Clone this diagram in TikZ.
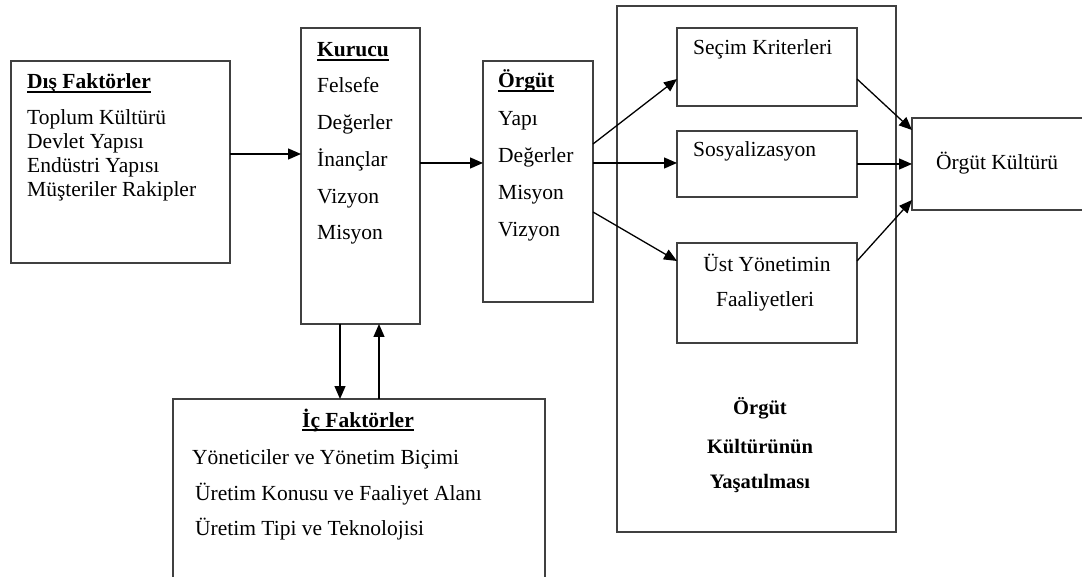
\documentclass[tikz,border=0pt]{standalone}
\usepackage{fontspec}
\setmainfont{Liberation Serif}
\usetikzlibrary{arrows.meta}

% underline at a fixed depth below the baseline
\newcommand{\ulin}[1]{\setbox0\hbox{#1}\rlap{\vrule width \wd0 height -2.2pt depth 3.6pt}\box0}

\tikzset{
  box/.style={draw=black!75, line width=1.1pt, inner sep=0pt, outer sep=0pt},
  item/.style={anchor=base west, inner sep=0pt, font=\fontsize{21.5}{25}\selectfont},
  head/.style={item, font=\fontsize{21.5}{25}\selectfont\bfseries},
  mid/.style={anchor=base, inner sep=0pt, font=\fontsize{21.5}{25}\selectfont},
  arr/.style={line width=1.3pt, -{Triangle[length=13pt,width=11pt]}}
}

\begin{document}
\begin{tikzpicture}[x=1pt,y=-1pt]
\useasboundingbox (0,0) rectangle (1082,577);
\clip (0,0) rectangle (1082,577);

% boxes
\node[box, minimum width=219pt, minimum height=202pt] (dis) at (120.5,162) {};
\node[box, minimum width=119pt, minimum height=296pt] (kurucu) at (360.5,176) {};
\node[box, minimum width=110pt, minimum height=241pt] (orgut) at (538,181.5) {};
\node[box, minimum width=372pt, minimum height=221pt] (ic) at (359,509.5) {};
\node[box, minimum width=279pt, minimum height=526pt] (kap) at (756.5,269) {};
\node[box, minimum width=180pt, minimum height=78pt] (secim) at (767,67) {};
\node[box, minimum width=180pt, minimum height=66pt] (sosyal) at (767,164) {};
\node[box, minimum width=180pt, minimum height=100pt] (ust) at (767,293) {};
\node[box, minimum width=188pt, minimum height=92pt] (kultur) at (1006,164) {};

% Dis Faktorler
\node[head] (dis-h) at (27,89) {\ulin{Dış Faktörler}};
\foreach \t [count=\i] in {Toplum Kültürü, Devlet Yapısı, Endüstri Yapısı, Müşteriler Rakipler}
  \node[item] (dis-\i) at (27,101+24*\i) {\t};

% Kurucu
\node[head] (kurucu-h) at (317,57) {\ulin{Kurucu}};
\foreach \t [count=\i] in {Felsefe, Değerler, İnançlar, Vizyon, Misyon}
  \node[item] (kurucu-\i) at (317,56.25+36.75*\i) {\t};

% Orgut
\node[head] (orgut-h) at (498,88) {\ulin{Örgüt}};
\foreach \t [count=\i] in {Yapı, Değerler, Misyon, Vizyon}
  \node[item] (orgut-\i) at (498,89+37*\i) {\t};

% Ic Faktorler
\node[mid, font=\fontsize{21.5}{25}\selectfont\bfseries] (ic-h) at (358,427) {\ulin{İç Faktörler}};
\node[item] (ic-1) at (192,464) {Yöneticiler ve Yönetim Biçimi};
\node[item] (ic-2) at (195,500) {Üretim Konusu ve Faaliyet Alanı};
\node[item] (ic-3) at (195,535) {Üretim Tipi ve Teknolojisi};

% right part
\node[item] (secim-t) at (693,55) {Seçim Kriterleri};
\node[item] (sosyal-t) at (693,157) {Sosyalizasyon};
\node[mid] (ust-1) at (767,272) {Üst Yönetimin};
\node[mid] (ust-2) at (765,307) {Faaliyetleri};
\node[item] (kultur-t) at (936,170) {Örgüt Kültürü};
\foreach \t/\y [count=\i] in {Örgüt/414, Kültürünün/453, Yaşatılması/488}
  \node[mid, font=\fontsize{20.5}{25}\selectfont\bfseries] (kap-\i) at (760,\y) {\t};

% arrows
\draw[arr] (dis.east |- 0,154) -- (kurucu.west |- 0,154);
\draw[arr] (kurucu.east |- 0,163) -- (orgut.west |- 0,163);
\draw[arr] (kurucu.south -| 340,0) -- (ic.north -| 340,0);
\draw[arr] (ic.north -| 379,0) -- (kurucu.south -| 379,0);
\draw[arr] (orgut.east |- 0,144) -- (secim.west |- 0,79);
\draw[arr] (orgut.east |- 0,163) -- (sosyal.west |- 0,163);
\draw[arr] (orgut.east |- 0,212) -- (ust.west |- 0,261);
\draw[arr] (secim.east |- 0,79) -- (kultur.west |- 0,130);
\draw[arr] (sosyal.east |- 0,164) -- (kultur.west |- 0,164);
\draw[arr] (ust.east |- 0,261) -- (kultur.west |- 0,200);
\end{tikzpicture}
\end{document}
